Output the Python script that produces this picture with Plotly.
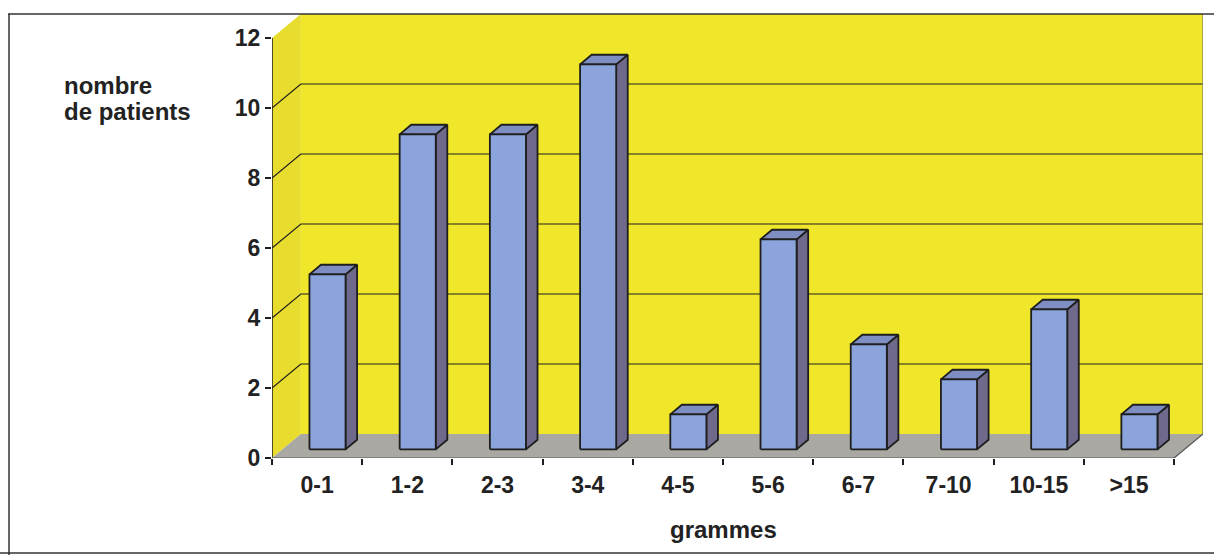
import plotly.graph_objects as go

# Number of patients per weight class (grams)
categories = ["0-1", "1-2", "2-3", "3-4", "4-5", "5-6", "6-7", "7-10", "10-15", ">15"]
patients = [5, 9, 9, 11, 1, 6, 3, 2, 4, 1]
y_ticks = [0, 2, 4, 6, 8, 10, 12]

# Pseudo-3D geometry (data units)
DX, DY = 0.32, 0.686          # depth offset of the back wall
BAR_W = 0.40                  # bar width
F_FRONT, F_BACK = 0.36, 0.76  # bar depth position as a fraction of the wall depth
N = len(categories)
YMAX = max(y_ticks)

W, H = 1214, 555
L, R, T, B = 272, 11, 14, 97
PW, PH = W - L - R, H - T - B

WALL = "#f0e62a"
SIDE_WALL = "#e8dd2e"
FLOOR = "#a9a8a2"
FRONT = "#8ba4dc"
SIDE = "#6f6a8c"
TOP = "#7f8ec2"
INK = "#1e1e1e"
FONT = "Liberation Sans, Arial, sans-serif"

fig = go.Figure()


def poly(xs, ys, fill, line_color=None, width=0):
    fig.add_trace(go.Scatter(
        x=list(xs) + [xs[0]], y=list(ys) + [ys[0]], mode="lines", fill="toself",
        fillcolor=fill, line=dict(color=line_color or fill, width=width),
        hoverinfo="skip", showlegend=False))


def seg(xs, ys, color=INK, width=1.2):
    fig.add_trace(go.Scatter(x=xs, y=ys, mode="lines", line=dict(color=color, width=width),
                             hoverinfo="skip", showlegend=False))


# Walls and floor
poly([DX, N + DX, N + DX, DX], [DY, DY, YMAX + DY, YMAX + DY], WALL)
poly([0, DX, DX, 0], [0, DY, YMAX + DY, YMAX], SIDE_WALL)
poly([0, N, N + DX, DX], [0, 0, DY, DY], FLOOR)

# Gridlines on the back wall and the left wall
for v in y_ticks[1:-1]:
    seg([0, DX, N + DX], [v, v + DY, v + DY])
seg([N + DX, N + DX], [DY, YMAX + DY], color="#7a7a70", width=1.2)

# Front axes
seg([0, 0], [0, YMAX], width=1.5)
seg([0, N, N + DX], [0, 0, DY], color="#555555", width=1.2)

# Bars: front, side and top faces
ox, oy = (F_BACK - F_FRONT) * DX, (F_BACK - F_FRONT) * DY
for i, v in enumerate(patients):
    x0 = i + 0.5 - BAR_W / 2 + F_FRONT * DX
    x1 = x0 + BAR_W
    y0 = F_FRONT * DY
    y1 = v + y0
    poly([x1, x1 + ox, x1 + ox, x1], [y0, y0 + oy, y1 + oy, y1], SIDE, INK, 1.8)
    poly([x0, x1, x1 + ox, x0 + ox], [y1, y1, y1 + oy, y1 + oy], TOP, INK, 1.8)
    poly([x0, x1, x1, x0], [y0, y0, y1, y1], FRONT, INK, 1.8)


def px(x):
    return (x - L) / PW


def py(y):
    return 1 - (y - T) / PH


# Outer frame
frame = dict(type="line", xref="paper", yref="paper", line=dict(color="#333333", width=1.5))
fig.add_shape(**frame, x0=px(8), x1=px(1214), y0=py(14), y1=py(14))
fig.add_shape(**frame, x0=px(9), x1=px(9), y0=py(14), y1=py(555))
fig.add_shape(**frame, x0=px(0), x1=px(1214), y0=py(553), y1=py(553))

tick_font = dict(family=FONT, size=23, color="#222222", weight="bold")
title_font = dict(family=FONT, size=24, color="#222222", weight="bold")
fig.add_annotation(text="nombre", x=px(62), y=py(85), xref="paper", yref="paper",
                   xanchor="left", yanchor="middle", showarrow=False, font=title_font)
fig.add_annotation(text="de patients", x=px(62), y=py(111), xref="paper", yref="paper",
                   xanchor="left", yanchor="middle", showarrow=False, font=title_font)
fig.add_annotation(text="grammes", x=px(723), y=py(529), xref="paper", yref="paper",
                   xanchor="center", yanchor="middle", showarrow=False, font=title_font)

fig.update_layout(
    width=W, height=H,
    margin=dict(l=L, r=R, t=T, b=B),
    paper_bgcolor="white", plot_bgcolor="white",
    showlegend=False,
    xaxis=dict(range=[0, N + DX], tickvals=list(range(N + 1)), ticktext=[""] * (N + 1),
               ticks="outside", ticklen=6, tickwidth=1.5, tickcolor=INK,
               showgrid=False, zeroline=False, showline=False, fixedrange=True),
    xaxis2=dict(range=[0, N + DX], overlaying="x", anchor="y", side="bottom",
                tickvals=[i + 0.5 for i in range(N)], ticktext=categories,
                ticks="", tickfont=tick_font, ticklabelstandoff=11,
                showgrid=False, zeroline=False, showline=False, fixedrange=True),
    yaxis=dict(range=[0, YMAX + DY], tickvals=y_ticks, ticks="outside", ticklen=6,
               tickwidth=1.5, tickcolor=INK, tickfont=tick_font,
               showgrid=False, zeroline=False, showline=False, fixedrange=True),
)

# An invisible point keeps the category axis drawn
fig.add_trace(go.Scatter(x=[0.5], y=[0], xaxis="x2", mode="markers",
                         marker=dict(opacity=0), hoverinfo="skip", showlegend=False))

fig.write_html("out.html")
